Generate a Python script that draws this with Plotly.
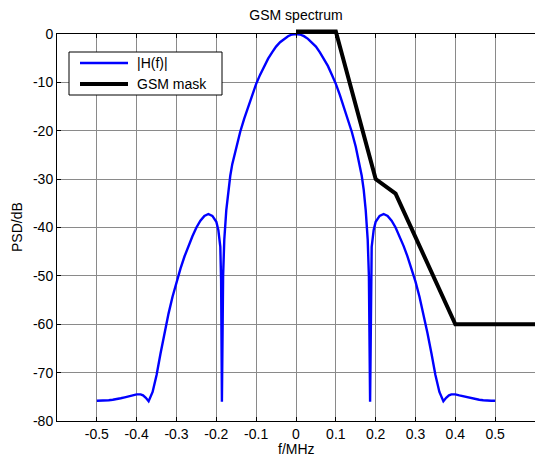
import plotly.graph_objects as go

# ---- data (spectrum is symmetric about 0) ----
freq_half = [0.0, 0.01, 0.02, 0.03, 0.04, 0.05, 0.06, 0.07, 0.08, 0.09,
             0.10, 0.11, 0.12, 0.13, 0.14, 0.15, 0.16, 0.165, 0.17, 0.175,
             0.18, 0.183, 0.186, 0.188, 0.19, 0.195, 0.20, 0.21, 0.22, 0.23,
             0.24, 0.25, 0.26, 0.27, 0.28, 0.29, 0.30, 0.31, 0.32, 0.33,
             0.34, 0.35, 0.36, 0.37, 0.377, 0.384, 0.39, 0.40, 0.41, 0.42,
             0.43, 0.44, 0.45, 0.46, 0.47, 0.48, 0.49, 0.5]
psd_half = [0.0, -0.1, -0.45, -1.0, -1.7, -2.6, -3.8, -5.1, -6.6, -8.4,
            -10.3, -12.6, -15.0, -17.5, -20.2, -23.3, -26.9, -29.3, -32.2, -36.4,
            -42.5, -50.0, -76.0, -51.0, -44.0, -40.5, -38.8, -37.6, -37.2, -37.6,
            -38.6, -40.0, -41.8, -43.8, -46.0, -48.5, -51.2, -54.3, -57.8, -61.8,
            -66.0, -70.5, -74.0, -75.9, -75.2, -74.7, -74.5, -74.5, -74.7, -74.9,
            -75.1, -75.3, -75.5, -75.6, -75.7, -75.8, -75.8, -75.8]

freq = [-f for f in reversed(freq_half[1:])] + freq_half
psd = list(reversed(psd_half[1:])) + psd_half

mask_freq = [0.0, 0.1, 0.2, 0.25, 0.4, 0.6]
mask_db = [0.5, 0.5, -30.0, -33.0, -60.0, -60.0]

x_ticks = [-0.5, -0.4, -0.3, -0.2, -0.1, 0.0, 0.1, 0.2, 0.3, 0.4, 0.5]
x_tick_labels = ["-0.5", "-0.4", "-0.3", "-0.2", "-0.1", "0", "0.1", "0.2", "0.3", "0.4", "0.5"]
y_ticks = [-80, -70, -60, -50, -40, -30, -20, -10, 0]
y_tick_labels = ["-80", "-70", "-60", "-50", "-40", "-30", "-20", "-10", "0"]

# ---- layout geometry ----
W, H = 535, 458
L, R, T, B = 57, 0, 28, 37
axis_top_px = 34
plot_h = H - T - B
plot_w = W - L - R
bottom_px = H - B
main_top = (bottom_px - axis_top_px) / plot_h
y2_top = -80 + 80 * plot_h / (bottom_px - axis_top_px)

FONT = "Liberation Sans, Arial, Helvetica, sans-serif"


def px_x(p):
    return (p - L) / plot_w


def px_y(p):
    return (bottom_px - p) / plot_h


fig = go.Figure()
fig.add_trace(go.Scatter(x=freq, y=psd, mode="lines", name="|H(f)|",
                         line=dict(color="#0000ff", width=2.4), xaxis="x", yaxis="y",
                         showlegend=False, hoverinfo="x+y"))
fig.add_trace(go.Scatter(x=mask_freq, y=mask_db, mode="lines", name="GSM mask",
                         line=dict(color="#000000", width=4), xaxis="x2", yaxis="y2",
                         showlegend=False, hoverinfo="x+y"))

grid_col = "#8a8a8a"
fig.update_layout(
    width=W, height=H,
    margin=dict(l=L, r=R, t=T, b=B, pad=0),
    paper_bgcolor="white", plot_bgcolor="rgba(0,0,0,0)",
    font=dict(family=FONT, size=14, color="black"),
    showlegend=False,
    xaxis=dict(range=[-0.6, 0.6], domain=[0, 1], anchor="y",
               tickmode="array", tickvals=x_ticks, ticktext=x_tick_labels,
               ticks="inside", ticklen=4, tickwidth=1, tickcolor="black",
               showline=True, linecolor="black", linewidth=1, mirror="ticks",
               showgrid=True, gridcolor=grid_col, gridwidth=1, zeroline=False,
               tickfont=dict(size=14)),
    yaxis=dict(range=[-80, 0], domain=[0, main_top], anchor="x",
               tickmode="array", tickvals=y_ticks, ticktext=y_tick_labels,
               ticks="inside", ticklen=4, tickwidth=1, tickcolor="black",
               showline=True, linecolor="black", linewidth=1, mirror=False,
               showgrid=True, gridcolor=grid_col, gridwidth=1, zeroline=False,
               tickfont=dict(size=14)),
    xaxis2=dict(range=[-0.6, 0.6], domain=[0, 1], anchor="y2", visible=False,
                showgrid=False, zeroline=False),
    yaxis2=dict(range=[-80, y2_top], domain=[0, 1], anchor="x2", visible=False,
                showgrid=False, zeroline=False),
    title=dict(text="GSM spectrum", x=0.5, xref="paper", xanchor="center",
               y=1 - 15 / H, yref="container", yanchor="middle",
               font=dict(size=14, family=FONT)),
)

# axis labels
fig.add_annotation(text="f/MHz", xref="paper", yref="paper", x=0.5, y=px_y(449),
                   xanchor="center", yanchor="middle", showarrow=False,
                   font=dict(size=14, family=FONT))
fig.add_annotation(text="PSD/dB", xref="paper", yref="paper", x=px_x(17), y=px_y(227),
                   xanchor="center", yanchor="middle", showarrow=False, textangle=-90,
                   font=dict(size=14, family=FONT))

# legend box drawn by hand (MATLAB style)
fig.add_shape(type="rect", xref="paper", yref="paper",
              x0=px_x(69), x1=px_x(222), y0=px_y(95), y1=px_y(52),
              line=dict(color="black", width=1), fillcolor="white", layer="above")
legend_rows = [("|H(f)|", "#0000ff", 2.4, 63), ("GSM mask", "#000000", 4, 84)]
for name, col, w, py in legend_rows:
    fig.add_shape(type="line", xref="paper", yref="paper",
                  x0=px_x(80), x1=px_x(128), y0=px_y(py), y1=px_y(py),
                  line=dict(color=col, width=w), layer="above")
    fig.add_annotation(text=name, xref="paper", yref="paper", x=px_x(135), y=px_y(py),
                       xanchor="left", yanchor="middle", showarrow=False,
                       font=dict(size=14, family=FONT))

fig.write_html(
    "out.html",
    config={"displayModeBar": False},
    post_script="document.body.style.margin='0';document.body.style.padding='0';"
                "document.body.style.overflow='hidden';",
)
